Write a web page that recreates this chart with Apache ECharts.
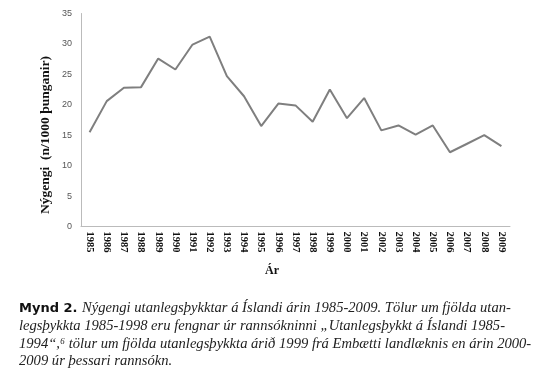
<!DOCTYPE html>
<html><head><meta charset="utf-8">
<script src="https://cdn.jsdelivr.net/npm/echarts@6/dist/echarts.min.js"></script>
<style>html,body{margin:0;padding:0;background:#fff}#c{width:550px;height:391px}</style>
</head><body><div id="c"></div>
<script>
const years = ['1985','1986','1987','1988','1989','1990','1991','1992','1993','1994','1995','1996','1997','1998','1999','2000','2001','2002','2003','2004','2005','2006','2007','2008','2009'];
const incidence = [15.5,20.6,22.8,22.9,27.6,25.8,29.9,31.2,24.7,21.4,16.5,20.2,19.9,17.2,22.5,17.8,21.1,15.8,16.6,15.1,16.6,12.2,13.6,15.0,13.2];
const yTicks = [0,5,10,15,20,25,30,35];
const yTitle = 'Nýgengi  (n/1000 þunganir)';
const xTitle = 'Ár';
const captionLines = [
  ['Mynd 2. ', 'Nýgengi utanlegsþykktar á Íslandi árin 1985-2009. Tölur um fjölda utan-'],
  ['', 'legsþykkta 1985-1998 eru fengnar úr rannsókninni „Utanlegsþykkt á Íslandi 1985-'],
  ['', '1994“,⁶ tölur um fjölda utanlegsþykkta árið 1999 frá Embætti landlæknis en árin 2000-'],
  ['', '2009 úr þessari rannsókn.']
];

const chart = echarts.init(document.getElementById('c'));
const serif = '"Liberation Serif","DejaVu Serif",serif';
const captionGraphics = captionLines.map((l, i) => ({
  type: 'text', left: 19, top: 301 + i * 17.6,
  style: {
    text: (l[0] ? '{b|' + l[0] + '}' : '') + '{i|' + l[1] + '}',
    rich: {
      b: {fontFamily: '"DejaVu Sans",sans-serif', fontWeight: 'bold', fontSize: 13, fill: '#111'},
      i: {fontFamily: serif, fontStyle: 'italic', fontSize: 14.6, fill: '#222'}
    }
  }
}));
chart.setOption({
  animation: false,
  grid: {left: 81, top: 13.5, right: 40, bottom: 164.5},
  xAxis: {
    type: 'category', data: years, boundaryGap: true,
    axisLine: {lineStyle: {color: '#bbb', width: 1}},
    axisTick: {show: false},
    axisLabel: {rotate: -90, interval: 0, fontFamily: serif, fontWeight: 'bold', fontSize: 10.5, color: '#111', margin: 5}
  },
  yAxis: {
    type: 'value', min: yTicks[0], max: yTicks[yTicks.length - 1], interval: 5,
    axisLine: {show: true, lineStyle: {color: '#bbb', width: 1}},
    axisTick: {show: false},
    splitLine: {show: false},
    axisLabel: {fontFamily: '"Liberation Sans",Arial,sans-serif', fontSize: 9, color: '#555', margin: 9}
  },
  series: [{
    type: 'line', data: incidence, symbol: 'none',
    lineStyle: {color: '#7f7f7f', width: 2}
  }],
  graphic: captionGraphics.concat([
    {type: 'text', x: 46, y: 135, rotation: Math.PI / 2,
     style: {text: yTitle, align: 'center', verticalAlign: 'middle', fontFamily: serif, fontWeight: 'bold', fontSize: 13.5, fill: '#111'}},
    {type: 'text', x: 272, y: 271,
     style: {text: xTitle, align: 'center', verticalAlign: 'middle', fontFamily: serif, fontWeight: 'bold', fontSize: 12, fill: '#111'}}
  ])
});
</script></body></html>
